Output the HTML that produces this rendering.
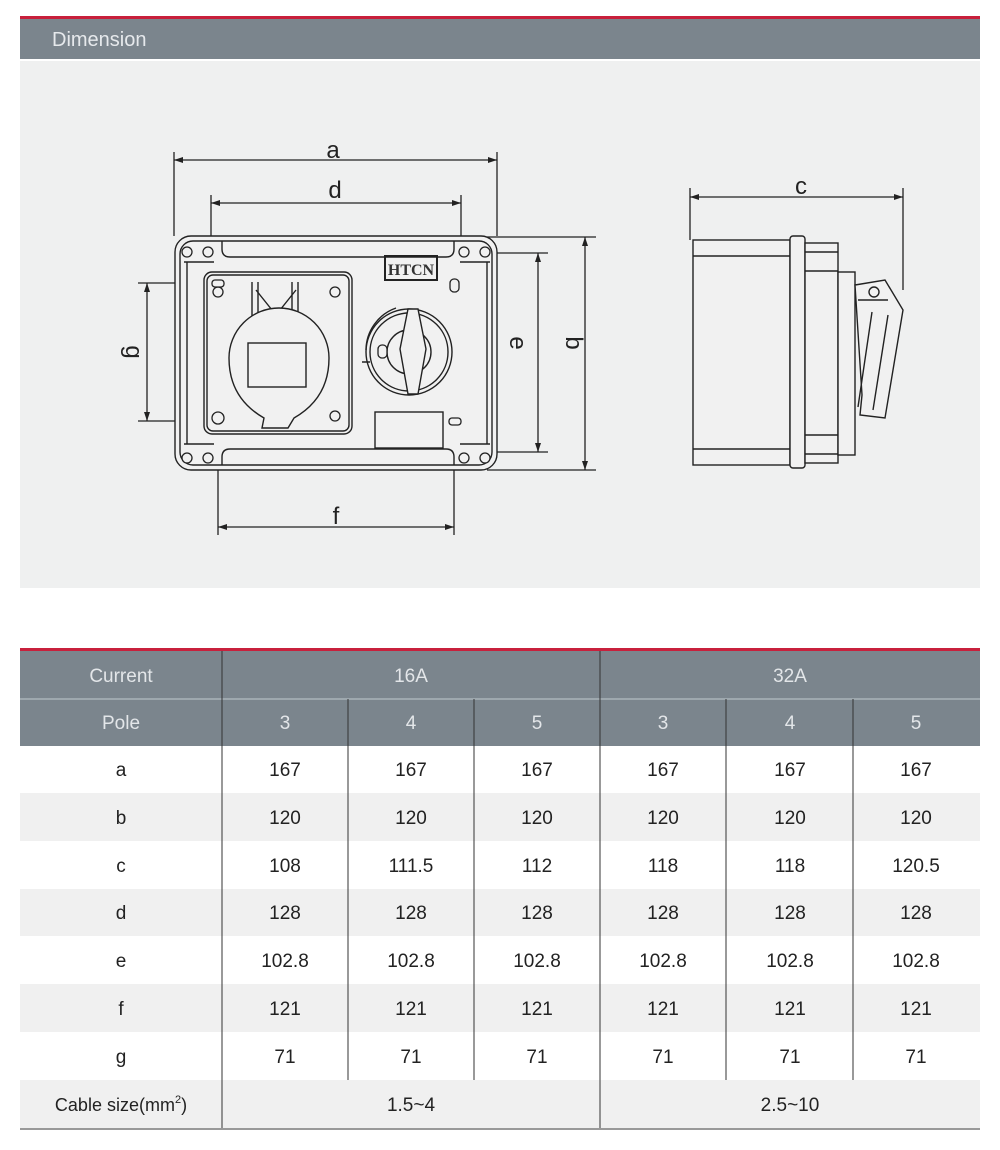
<!DOCTYPE html>
<html><head><meta charset="utf-8"><style>
html,body{margin:0;padding:0;background:#fff;}
svg{display:block;font-family:"Liberation Sans",sans-serif;}
</style></head><body>
<svg width="1000" height="1150" viewBox="0 0 1000 1150" xmlns="http://www.w3.org/2000/svg">
<rect x="0" y="0" width="1000" height="1150" fill="#fff"/>
<!-- header -->
<rect x="20" y="16" width="960" height="3" fill="#c8203c"/>
<rect x="20" y="19" width="960" height="40" fill="#7b858d"/>
<text x="52" y="46" font-size="20" fill="#e6e9ec">Dimension</text>
<rect x="20" y="61" width="960" height="527" fill="#eff0f0"/>

<g stroke="#222" fill="none" stroke-width="1.3">
<!-- dimension lines front -->
<line x1="174" y1="152" x2="174" y2="236"/><line x1="497" y1="152" x2="497" y2="236"/>
<line x1="174" y1="160" x2="497" y2="160"/>
<line x1="211" y1="195" x2="211" y2="245"/><line x1="461" y1="195" x2="461" y2="245"/>
<line x1="211" y1="203" x2="461" y2="203"/>
<line x1="218" y1="425" x2="218" y2="535"/><line x1="454" y1="425" x2="454" y2="535"/>
<line x1="218" y1="527" x2="454" y2="527"/>
<line x1="138" y1="283" x2="222" y2="283"/><line x1="138" y1="421" x2="218" y2="421"/>
<line x1="147" y1="283" x2="147" y2="421"/>
<line x1="456" y1="253" x2="548" y2="253"/><line x1="456" y1="452" x2="548" y2="452"/>
<line x1="538" y1="253" x2="538" y2="452"/>
<line x1="487" y1="237" x2="596" y2="237"/><line x1="487" y1="470" x2="596" y2="470"/>
<line x1="585" y1="237" x2="585" y2="470"/>
<!-- c -->
<line x1="690" y1="188" x2="690" y2="240"/><line x1="903" y1="188" x2="903" y2="290"/>
<line x1="690" y1="197" x2="903" y2="197"/>
</g>
<g fill="#222">
<path d="M174 160l9-3v6z"/><path d="M497 160l-9-3v6z"/>
<path d="M211 203l9-3v6z"/><path d="M461 203l-9-3v6z"/>
<path d="M218 527l9-3v6z"/><path d="M454 527l-9-3v6z"/>
<path d="M147 283l-3 9h6z"/><path d="M147 421l-3-9h6z"/>
<path d="M538 253l-3 9h6z"/><path d="M538 452l-3-9h6z"/>
<path d="M585 237l-3 9h6z"/><path d="M585 470l-3-9h6z"/>
<path d="M690 197l9-3v6z"/><path d="M903 197l-9-3v6z"/>
</g>
<g font-size="24" fill="#222" text-anchor="middle">
<text x="333" y="158">a</text><text x="335" y="198">d</text><text x="336" y="524">f</text>
<text x="801" y="194">c</text>
<text transform="translate(126,352) rotate(90)">g</text>
<text transform="translate(510,343) rotate(90)">e</text>
<text transform="translate(566,343) rotate(90)">b</text>
</g>

<!-- front box -->
<g stroke="#222" fill="none" stroke-width="1.4">
<rect x="175" y="236" width="322" height="234" rx="16" fill="#f1f1f1"/>
<rect x="180" y="241" width="312" height="224" rx="13"/>
<path d="M222 241 v8 q0 8 8 8 h216 q8 0 8 -8 v-8"/>
<path d="M222 465 v-8 q0 -8 8 -8 h216 q8 0 8 8 v8"/>
<path d="M184 262 h30 M184 444 h30 M460 262 h30 M460 444 h30"/>
<path d="M187 262 v182 M487 262 v182"/>
<rect x="204" y="272" width="148" height="162" rx="8"/>
<rect x="207" y="275" width="142" height="156" rx="6"/>
<path d="M252 282 v45 M258 282 v45 M292 282 v45 M298 282 v45"/>
<path d="M256 290 l20 25 l20 -25"/>
<path d="M262 428 h26 l6 -10 q35 -20 35 -60 a50 50 0 0 0 -100 0 q0 40 35 60z" fill="#f1f1f1"/>
<rect x="248" y="343" width="58" height="44"/>
<circle cx="409" cy="352" r="43"/><circle cx="409" cy="352" r="39"/>
<circle cx="409" cy="352" r="22"/>
<path d="M418 309 l8 40 l-8 45 l-10 0 l-8 -45 l8 -40z" fill="#f1f1f1"/>
<path d="M366 350 a45 45 0 0 1 30 -42 M362 362 h8"/>
<rect x="375" y="412" width="68" height="36"/>
<rect x="385" y="256" width="52" height="24" stroke-width="2"/>
</g>
<text x="411" y="275" font-size="16" font-weight="bold" text-anchor="middle" fill="#333" font-family="Liberation Serif,serif">HTCN</text>
<g stroke="#222" fill="#f1f1f1" stroke-width="1.3">
<circle cx="187" cy="252" r="5"/><circle cx="208" cy="252" r="5"/><circle cx="464" cy="252" r="5"/><circle cx="485" cy="252" r="5"/>
<circle cx="187" cy="458" r="5"/><circle cx="208" cy="458" r="5"/><circle cx="464" cy="458" r="5"/><circle cx="485" cy="458" r="5"/>
<circle cx="218" cy="292" r="5"/><circle cx="335" cy="292" r="5"/><circle cx="335" cy="416" r="5"/><circle cx="218" cy="418" r="6"/>
<rect x="212" y="280" width="12" height="7" rx="3"/><rect x="449" y="418" width="12" height="7" rx="3"/>
<rect x="450" y="279" width="9" height="13" rx="4"/><rect x="378" y="345" width="9" height="13" rx="4"/>
</g>

<!-- side view -->
<g stroke="#222" fill="#f1f1f1" stroke-width="1.4">
<rect x="693" y="240" width="97" height="225"/>
<line x1="693" y1="256" x2="790" y2="256"/><line x1="693" y1="449" x2="790" y2="449"/>
<rect x="790" y="236" width="15" height="232" rx="3"/>
<rect x="805" y="243" width="33" height="220"/>
<line x1="805" y1="252" x2="838" y2="252"/><line x1="805" y1="271" x2="838" y2="271"/>
<line x1="805" y1="435" x2="838" y2="435"/><line x1="805" y1="454" x2="838" y2="454"/>
<rect x="838" y="272" width="17" height="183"/>
<path d="M855 285 l30 -5 l18 30 l-18 108 l-25 -3 l2 -20z"/>
<path d="M858 300 h30 M872 312 l-14 95 M888 315 l-15 95"/>
<circle cx="874" cy="292" r="5"/>
</g>

<!-- table -->
<rect x="20" y="648" width="960" height="3" fill="#c8203c"/>
<rect x="20" y="651" width="960" height="95" fill="#7b858d"/>
<line x1="20" y1="699" x2="980" y2="699" stroke="#a9b3ba" stroke-width="1.5"/>
<g fill="#f0f0f0">
<rect x="20" y="793" width="960" height="48"/><rect x="20" y="889" width="960" height="47"/>
<rect x="20" y="984" width="960" height="48"/><rect x="20" y="1080" width="960" height="48"/>
</g>
<rect x="20" y="1128" width="960" height="2" fill="#999"/>
<g stroke="#333" stroke-width="1">
<line x1="222" y1="651" x2="222" y2="1128"/><line x1="600" y1="651" x2="600" y2="1128"/>
<line x1="348" y1="699" x2="348" y2="1080"/><line x1="474" y1="699" x2="474" y2="1080"/>
<line x1="726" y1="699" x2="726" y2="1080"/><line x1="853" y1="699" x2="853" y2="1080"/>
</g>
<g font-size="19" fill="#e3e6e9" text-anchor="middle">
<text x="121" y="682">Current</text><text x="411" y="682">16A</text><text x="790" y="682">32A</text>
<text x="121" y="729">Pole</text>
<text x="285" y="729">3</text><text x="411" y="729">4</text><text x="537" y="729">5</text>
<text x="663" y="729">3</text><text x="790" y="729">4</text><text x="916" y="729">5</text>
</g>
<g font-size="19" fill="#222" text-anchor="middle">
<text x="121" y="776">a</text><text x="285" y="776">167</text><text x="411" y="776">167</text><text x="537" y="776">167</text><text x="663" y="776">167</text><text x="790" y="776">167</text><text x="916" y="776">167</text>
<text x="121" y="824">b</text><text x="285" y="824">120</text><text x="411" y="824">120</text><text x="537" y="824">120</text><text x="663" y="824">120</text><text x="790" y="824">120</text><text x="916" y="824">120</text>
<text x="121" y="872">c</text><text x="285" y="872">108</text><text x="411" y="872">111.5</text><text x="537" y="872">112</text><text x="663" y="872">118</text><text x="790" y="872">118</text><text x="916" y="872">120.5</text>
<text x="121" y="919">d</text><text x="285" y="919">128</text><text x="411" y="919">128</text><text x="537" y="919">128</text><text x="663" y="919">128</text><text x="790" y="919">128</text><text x="916" y="919">128</text>
<text x="121" y="967">e</text><text x="285" y="967">102.8</text><text x="411" y="967">102.8</text><text x="537" y="967">102.8</text><text x="663" y="967">102.8</text><text x="790" y="967">102.8</text><text x="916" y="967">102.8</text>
<text x="121" y="1015">f</text><text x="285" y="1015">121</text><text x="411" y="1015">121</text><text x="537" y="1015">121</text><text x="663" y="1015">121</text><text x="790" y="1015">121</text><text x="916" y="1015">121</text>
<text x="121" y="1063">g</text><text x="285" y="1063">71</text><text x="411" y="1063">71</text><text x="537" y="1063">71</text><text x="663" y="1063">71</text><text x="790" y="1063">71</text><text x="916" y="1063">71</text>
<text x="121" y="1111" font-size="18">Cable size(mm<tspan font-size="11" dy="-8">2</tspan><tspan dy="8">)</tspan></text>
<text x="411" y="1111">1.5~4</text><text x="790" y="1111">2.5~10</text>
</g>
</svg>
</body></html>
